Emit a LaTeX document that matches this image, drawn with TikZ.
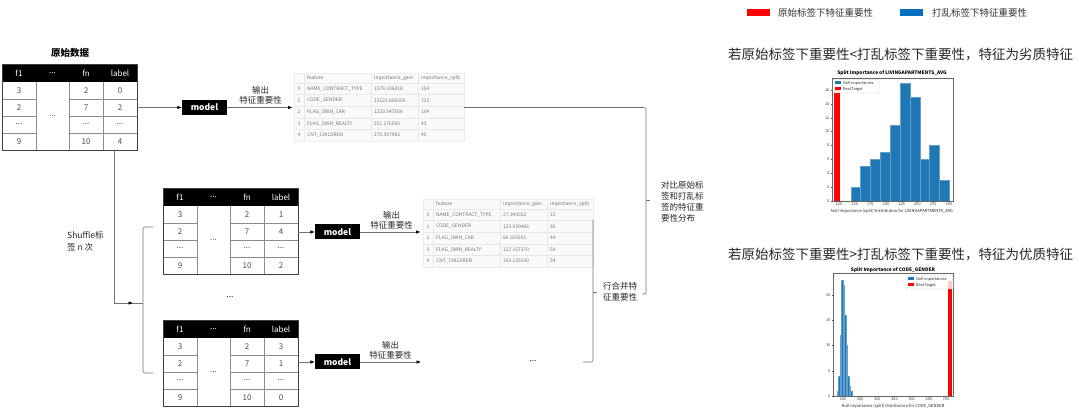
\documentclass[tikz,border=0pt]{standalone}
\usepackage{fontspec}
\setmainfont{Noto Sans CJK SC}
\usetikzlibrary{arrows.meta}
\definecolor{lgred}{RGB}{255,0,0}
\definecolor{lgblue}{RGB}{0,112,192}
\definecolor{mplblue}{RGB}{31,119,180}
\tikzset{
  conn/.style={draw=black!55, line width=0.6pt},
  arr/.style={conn, -{Latex[length=4.5pt,width=3.5pt,black]}},
  modelbox/.style={fill=black, text=white, font=\fontsize{8.5}{9}\selectfont\bfseries, minimum width=45pt, minimum height=15pt, inner sep=0pt},
  outlab/.style={font=\fontsize{8.5}{10}\selectfont, align=center, text=black!85, inner sep=1pt},
  plain/.style={font=\fontsize{8.5}{11}\selectfont, align=left, text=black!85, inner sep=0pt},
  cellline/.style={draw=black!45, line width=0.5pt},
  tframe/.style={draw=black!75, line width=0.6pt},
  cell/.style={font=\fontsize{8}{8}\selectfont, text=black!70, inner sep=0pt},
  hcell/.style={font=\fontsize{8}{8}\selectfont, text=white, inner sep=0pt},
  ftline/.style={draw=gray!18, line width=0.4pt},
  fttext/.style={anchor=west, font=\fontsize{4.9}{4.9}\selectfont, text=black!55, inner sep=0pt},
  heading/.style={anchor=west, font=\fontsize{13.5}{14}\selectfont, text=black!85, inner sep=0pt},
  legtext/.style={anchor=west, font=\fontsize{9.5}{10}\selectfont, text=black!80, inner sep=0pt},
  ticklab/.style={font=\fontsize{3.8}{3.8}\selectfont, text=black!80, inner sep=0.5pt},
  chtitle/.style={font=\fontsize{4.8}{4.8}\selectfont\bfseries, inner sep=0pt},
  chlab/.style={font=\fontsize{4.1}{4.1}\selectfont, text=black!85, inner sep=0pt},
  chleg/.style={anchor=west, font=\fontsize{3.8}{3.8}\selectfont, text=black!85, inner sep=0pt},
  barblue/.style={fill=mplblue, draw=mplblue!70!white, line width=0.25pt},
}
% data table: name, x, y, label1, label2, label4
\newcommand\datatable[6]{%
\begin{scope}[shift={(#2,#3)}]
  \node[anchor=north west, minimum width=135pt, minimum height=86pt, inner sep=0pt, outer sep=0pt] (#1) at (0,0) {};
  \fill[black] (0,0) rectangle (135,18);
  \draw[cellline] (34,18) -- (34,86) (67,18) -- (67,86) (101,18) -- (101,86);
  \draw[cellline] (0,35) -- (34,35) (67,35) -- (135,35)
                  (0,52) -- (34,52) (67,52) -- (135,52)
                  (0,69) -- (34,69) (67,69) -- (135,69);
  \draw[tframe] (0,0) rectangle (135,86);
  \node[hcell] at (17,9) {f1};
  \node[hcell] at (50.5,9) {...};
  \node[hcell] at (84,9) {fn};
  \node[hcell] at (118,9) {label};
  \node[cell] at (17,26.5) {3};
  \node[cell] at (17,43.5) {2};
  \node[cell] at (17,60.5) {...};
  \node[cell] at (17,77.5) {9};
  \node[cell] at (50.5,52) {...};
  \node[cell] at (84,26.5) {2};
  \node[cell] at (84,43.5) {7};
  \node[cell] at (84,60.5) {...};
  \node[cell] at (84,77.5) {10};
  \node[cell] at (118,26.5) {#4};
  \node[cell] at (118,43.5) {#5};
  \node[cell] at (118,60.5) {...};
  \node[cell] at (118,77.5) {#6};
\end{scope}}
% feature table: name, x, y, rows
\newcommand\ftable[4]{%
\begin{scope}[shift={(#2,#3)}]
  \node[anchor=north west, minimum width=170pt, minimum height=68pt, inner sep=0pt, outer sep=0pt, fill=gray!4, draw=gray!15, line width=0.4pt] (#1) at (0,0) {};
  \foreach \r in {0,...,4} \draw[ftline] (0,{10+11.6*\r}) -- (170,{10+11.6*\r});
  \draw[ftline] (10,0) -- (10,68) (77,0) -- (77,68) (124,0) -- (124,68);
  \node[fttext] at (13,5) {feature};
  \node[fttext] at (80,5) {importance\_gain};
  \node[fttext] at (127,5) {importance\_split};
  \foreach \i/\f/\g/\s in {#4} {
    \node[fttext, anchor=center] at (5,{15.8+11.6*\i}) {\i};
    \node[fttext] at (13,{15.8+11.6*\i}) {\f};
    \node[fttext] at (80,{15.8+11.6*\i}) {\g};
    \node[fttext] at (127,{15.8+11.6*\i}) {\s};
  }
\end{scope}}
\begin{document}
\begin{tikzpicture}[x=1pt,y=-1pt]
\useasboundingbox (0,0) rectangle (1080,411);
\fill[white] (0,0) rectangle (1080,411);

% ---------- left: data tables ----------
\node[font=\fontsize{9.5}{10}\selectfont\bfseries, inner sep=0pt] (title) at (70,53) {原始数据};
\datatable{t1}{2}{64}{0}{2}{4}
\datatable{t2}{163}{188}{1}{4}{2}
\datatable{t3}{163}{320}{3}{1}{0}

% models
\node[modelbox] (m1) at (204.5,107.5) {model};
\node[modelbox] (m2) at (337.5,232) {model};
\node[modelbox] (m3) at (337.5,362) {model};

% feature tables
\ftable{f1}{294}{73}{0/NAME\_CONTRACT\_TYPE/1578.336818/154, 1/CODE\_GENDER/13222.896059/725, 2/FLAG\_OWN\_CAR/1229.547506/104, 3/FLAG\_OWN\_REALTY/251.276590/43, 4/CNT\_CHILDREN/270.397982/45}
\ftable{f2}{423}{199}{0/NAME\_CONTRACT\_TYPE/27.343922/15, 1/CODE\_GENDER/123.930466/86, 2/FLAG\_OWN\_CAR/80.919201/44, 3/FLAG\_OWN\_REALTY/127.157370/54, 4/CNT\_CHILDREN/169.125030/54}

% connectors tables -> models -> feature tables
\draw[arr] (m1.west -| t1.east) -- (m1.west);
\draw[arr, shorten >=1.5pt] (m1.east) -- (m1.east -| f1.west) node[midway, above=2pt, outlab] {输出\\特征重要性};
\draw[arr] (m2.west -| t2.east) -- (m2.west);
\draw[arr, shorten >=2.5pt] (m2.east) -- (m2.east -| f2.west) node[midway, above=2pt, outlab] {输出\\特征重要性};
\coordinate (e3) at (421,362);
\draw[arr] (m3.west -| t3.east) -- (m3.west);
\draw[arr] (m3.east) -- (e3) node[midway, above=2pt, outlab] {输出\\特征重要性};

% shuffle branch
\coordinate (sh) at (114,303);
\coordinate (bk) at (143,303);
\draw[conn] (t1.south -| sh) -- (sh) -- (bk);
\draw[arr, shorten >=10pt] (sh) -- (bk);
\coordinate (bt) at (153,227);
\coordinate (bb) at (153,373);
\draw[conn, rounded corners=2pt] (bt) -- (bt -| bk) -- (bb -| bk) -- (bb);
\node[plain, anchor=west, font=\fontsize{8.5}{12.5}\selectfont] (shuf) at (67,241.5) {Shuffle标\\签 n 次};

\node[font=\fontsize{8.5}{9}\selectfont, text=black!85, inner sep=0pt] (dots1) at (230,297) {...};
\node[font=\fontsize{8.5}{9}\selectfont, text=black!85, inner sep=0pt] (dots2) at (533,361) {...};

% bracket 2: merge
\coordinate (b2top) at (593,222);
\coordinate (b2bot) at (593,362);
\coordinate (b2mid) at (593,292);
\draw[conn, rounded corners=2pt] (b2top -| f2.east) -- (b2top) -- (b2bot) -- ++(-10,0);
\draw[conn] (b2mid) -- ++(4,0);
\node[plain, anchor=west] (merge) at (603,292) {行合并特\\征重要性};

% bracket 1: compare
\coordinate (b1top) at (646,107.5);
\coordinate (b1bot) at (646,294);
\coordinate (b1mid) at (646,200);
\draw[conn, rounded corners=2pt] (f1.east |- b1top) -- (b1top) -- (b1bot) -- ++(-4,0);
\draw[conn] (b1mid) -- ++(4,0);
\node[plain, anchor=west] (cmp) at (661,201.5) {对比原始标\\签和打乱标\\签的特征重\\要性分布};

% ---------- right: legend and headings ----------
\fill[lgred] (747,9) rectangle (770,16);
\node[legtext] (lg1) at (778,12.5) {原始标签下特征重要性};
\fill[lgblue] (900,9) rectangle (923,16);
\node[legtext] (lg2) at (932,12.5) {打乱标签下特征重要性};

\node[heading] (h1) at (728,55) {若原始标签下重要性<打乱标签下重要性，特征为劣质特征};
\node[heading] (h2) at (728,255) {若原始标签下重要性>打乱标签下重要性，特征为优质特征};

% ---------- chart 1 ----------
\node[chtitle] at (892,73) {Split Importance of LIVINGAPARTMENTS\_AVG};
\fill[lgred] (834,90) rectangle (839.5,201);
\foreach \h [count=\i from 0] in {2,5,6,7,11,17,15,6,8,3}
  \filldraw[barblue] ({850.7+9.86*\i},201) rectangle ({850.7+9.86*(\i+1)},{201-6.94*\h});
\draw[black!60, line width=0.4pt] (832,78) rectangle (953,201);
\foreach \k in {0,2,...,16} {
  \draw[black!70, line width=0.3pt] (832,{201-6.94*\k}) -- ++(-1.5,0);
  \node[ticklab, anchor=east] at (830,{201-6.94*\k}) {\k};
}
\foreach \v [count=\i from 0] in {125,150,175,200,225,250,275,300} {
  \draw[black!70, line width=0.3pt] ({839+15.7*\i},201) -- ++(0,1.5);
  \node[ticklab, anchor=north] at ({839+15.7*\i},202.5) {\v};
}
\node[chlab] at (892,211) {Null Importance (split) Distribution for LIVINGAPARTMENTS\_AVG};
\filldraw[fill=white, fill opacity=0.85, draw=black!20, line width=0.3pt, rounded corners=0.8pt] (833,79.5) rectangle (879,93);
\fill[mplblue] (834.5,81.5) rectangle (841,84.5);
\node[chleg] at (843,83) {Null importances};
\fill[lgred] (834.5,87.5) rectangle (841,90.5);
\node[chleg] at (843,89) {Real Target};

% ---------- chart 2 ----------
\node[chtitle] at (893,270) {Split Importance of CODE\_GENDER};
\foreach \h [count=\i from 0] in {1,4,12,23,22,16,10,4,2,1}
  \filldraw[barblue] ({836.7+1.5*\i},396) rectangle ({836.7+1.5*(\i+1)},{396-5.05*\h});
\fill[lgred] (947.7,281) rectangle (951.7,396);
\draw[black!60, line width=0.4pt] (833,273) rectangle (953,396);
\foreach \k in {0,5,10,15,20} {
  \draw[black!70, line width=0.3pt] (833,{396-5.05*\k}) -- ++(-1.5,0);
  \node[ticklab, anchor=east] at (831,{396-5.05*\k}) {\k};
}
\foreach \v [count=\i from 0] in {100,200,300,400,500,600,700} {
  \draw[black!70, line width=0.3pt] ({843+17.17*\i},396) -- ++(0,1.5);
  \node[ticklab, anchor=north] at ({843+17.17*\i},397.5) {\v};
}
\node[chlab] at (893,406) {Null Importance (split) Distribution for CODE\_GENDER};
\filldraw[fill=white, fill opacity=0.8, draw=black!20, line width=0.3pt, rounded corners=0.8pt] (906,275.5) rectangle (953,289);
\fill[mplblue] (907.5,277.5) rectangle (914,280.5);
\node[chleg] at (916,279) {Null importances};
\fill[lgred] (907.5,283.5) rectangle (914,286.5);
\node[chleg] at (916,285) {Real Target};
\end{tikzpicture}
\end{document}
